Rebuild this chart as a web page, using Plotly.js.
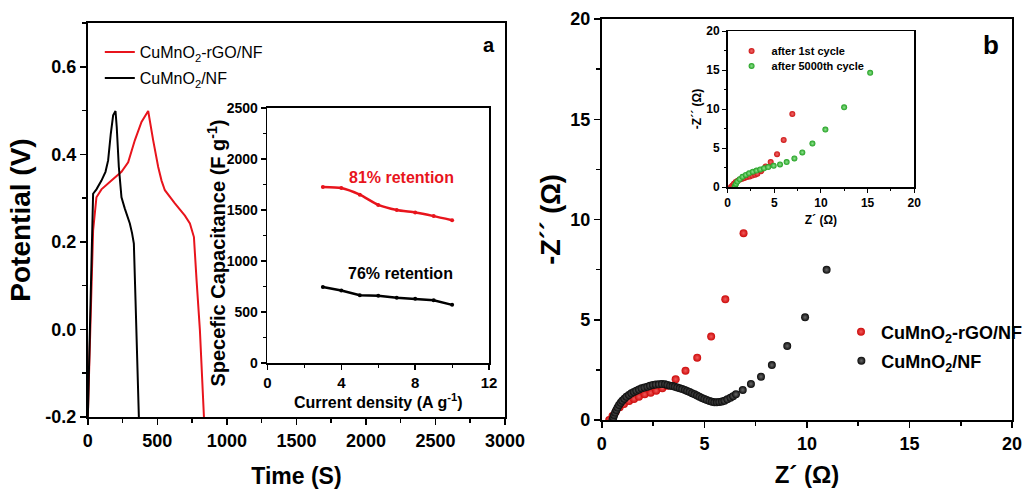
<!DOCTYPE html>
<html>
<head>
<meta charset="utf-8">
<script src="https://cdn.plot.ly/plotly-3.0.1.min.js"></script>
<style>html,body{margin:0;padding:0;background:#fff;}#chart{width:1028px;height:494px;}</style>
</head>
<body>
<div id="chart"></div>
<script>
// ---- Panel a: galvanostatic charge-discharge ----
const timeRGO = [0, 18, 30, 38, 62, 98, 170, 242, 290, 338, 386, 434, 470, 506, 530, 554, 626, 698, 734, 763, 782, 806, 835];
const potRGO  = [-0.2, 0.0, 0.15, 0.226, 0.302, 0.32, 0.34, 0.36, 0.382, 0.432, 0.474, 0.499, 0.432, 0.371, 0.34, 0.318, 0.288, 0.26, 0.242, 0.211, 0.112, -0.002, -0.2];
const timeNF  = [0, 15, 25, 31, 38, 62, 98, 127, 146, 165, 182, 199, 208, 223, 242, 266, 302, 318, 331, 343, 356, 367];
const potNF   = [-0.2, 0.0, 0.15, 0.226, 0.31, 0.32, 0.34, 0.36, 0.386, 0.447, 0.489, 0.499, 0.462, 0.371, 0.302, 0.276, 0.242, 0.22, 0.196, 0.066, -0.07, -0.2];
const potTickVals = [-0.2, 0, 0.2, 0.4, 0.6];
const potTickText = ["-0.2", "0.0", "0.2", "0.4", "0.6"];

// ---- Inset a: specific capacitance ----
const currentDensity = [3, 4, 5, 6, 7, 8, 9, 10];
const capRGO = [1725, 1715, 1650, 1550, 1500, 1475, 1440, 1400];
const capNF  = [745, 710, 665, 660, 640, 630, 615, 570];

// ---- Panel b: Nyquist plot ----
const zReRGO = [0.36, 0.52, 0.68, 0.87, 1.08, 1.33, 1.57, 1.81, 2.09, 2.38, 2.65, 2.95, 3.19, 3.60, 4.08, 4.65, 5.33, 6.02, 6.91];
const zImRGO = [0.0, 0.2, 0.41, 0.63, 0.80, 0.95, 1.05, 1.16, 1.28, 1.36, 1.46, 1.58, 1.71, 2.03, 2.46, 3.11, 4.16, 6.02, 9.32];
const zReNF = [0.52, 0.56, 0.60, 0.65, 0.71, 0.77, 0.84, 0.92, 1.0, 1.10, 1.20, 1.32, 1.44, 1.56, 1.68, 1.81, 1.94, 2.08, 2.22, 2.35, 2.49, 2.63, 2.78, 2.93, 3.08, 3.20, 3.33, 3.45, 3.56, 3.68, 3.80, 3.92, 4.05, 4.16, 4.28, 4.40, 4.52, 4.64, 4.76, 4.88, 5.00, 5.12, 5.25, 5.37, 5.49, 5.61, 5.73, 5.86, 5.98, 6.12, 6.27, 6.40, 6.54, 6.87, 7.27, 7.76, 8.29, 9.04, 9.91, 10.96];
const zImNF = [0.0, 0.12, 0.25, 0.37, 0.50, 0.62, 0.75, 0.86, 0.96, 1.06, 1.16, 1.25, 1.33, 1.40, 1.46, 1.52, 1.58, 1.62, 1.66, 1.71, 1.75, 1.77, 1.78, 1.79, 1.78, 1.75, 1.71, 1.69, 1.66, 1.62, 1.58, 1.54, 1.50, 1.45, 1.40, 1.34, 1.28, 1.22, 1.16, 1.10, 1.05, 1.00, 0.95, 0.91, 0.88, 0.88, 0.90, 0.92, 0.96, 1.03, 1.11, 1.19, 1.28, 1.50, 1.80, 2.16, 2.74, 3.69, 5.12, 7.49];

// ---- Inset b: cycling ----
const zRe1st = [0.36, 0.52, 0.68, 0.87, 1.08, 1.33, 1.57, 1.81, 2.09, 2.38, 2.65, 2.95, 3.19, 3.60, 4.08, 4.62, 5.30, 6.01, 6.94];
const zIm1st = [0.0, 0.2, 0.41, 0.63, 0.80, 0.95, 1.05, 1.16, 1.28, 1.36, 1.46, 1.58, 1.71, 2.03, 2.64, 3.19, 4.21, 6.04, 9.36];
const zRe5000 = [0.75, 0.8, 0.9, 1.05, 1.3, 1.6, 1.95, 2.3, 2.7, 3.1, 3.5, 3.9, 4.36, 4.94, 5.62, 6.33, 7.16, 8.01, 9.09, 10.48, 12.49, 15.28];
const zIm5000 = [0.0, 0.15, 0.4, 0.7, 1.0, 1.3, 1.55, 1.75, 1.95, 2.1, 2.25, 2.4, 2.55, 2.72, 2.89, 3.19, 3.66, 4.43, 5.57, 7.36, 10.21, 14.64];

const RED = '#e8141c', BLACK = '#000000';
const SANS = '"Liberation Sans", Arial, sans-serif';

function axisBase(extra) {
  return Object.assign({
    showline: true, linecolor: '#000', linewidth: 2, mirror: true,
    ticks: 'outside', tickcolor: '#000', tickwidth: 1.5, ticklen: 6,
    showgrid: false, zeroline: false, fixedrange: true
  }, extra);
}

const redBall   = {color: '#cc0a0a', size: 8, gradient: {type: 'radial', color: '#f25a5a'}};
const blackBall = {color: '#0a0a0a', size: 8, gradient: {type: 'radial', color: '#6a6a6a'}};
const redSmall   = {color: '#cc1414', size: 6, gradient: {type: 'radial', color: '#f26a6a'}};
const greenSmall = {color: '#1f9e1f', size: 6, gradient: {type: 'radial', color: '#8fe38f'}};

const traces = [
  {x: timeRGO, y: potRGO, xaxis: 'x', yaxis: 'y', mode: 'lines', name: 'CuMnO<sub>2</sub>-rGO/NF',
   line: {color: RED, width: 2}, legend: 'legend'},
  {x: timeNF, y: potNF, xaxis: 'x', yaxis: 'y', mode: 'lines', name: 'CuMnO<sub>2</sub>/NF',
   line: {color: BLACK, width: 2}, legend: 'legend2'},
  {x: currentDensity, y: capRGO, xaxis: 'x2', yaxis: 'y2', mode: 'lines+markers', showlegend: false,
   line: {color: RED, width: 2.5, shape: 'spline', smoothing: 0.6}, marker: {color: RED, size: 4}},
  {x: currentDensity, y: capNF, xaxis: 'x2', yaxis: 'y2', mode: 'lines+markers', showlegend: false,
   line: {color: BLACK, width: 2.5}, marker: {color: BLACK, size: 4}},
  {x: zReRGO, y: zImRGO, xaxis: 'x3', yaxis: 'y3', mode: 'markers', name: 'CuMnO<sub>2</sub>-rGO/NF', legend: 'legend3',
   marker: redBall},
  {x: zReNF, y: zImNF, xaxis: 'x3', yaxis: 'y3', mode: 'markers', name: 'CuMnO<sub>2</sub>/NF', legend: 'legend4',
   marker: blackBall},
  {x: zRe1st, y: zIm1st, xaxis: 'x4', yaxis: 'y4', mode: 'markers', name: 'after 1st cycle', legend: 'legend5',
   marker: redSmall},
  {x: zRe5000, y: zIm5000, xaxis: 'x4', yaxis: 'y4', mode: 'markers', name: 'after 5000th cycle', legend: 'legend6',
   marker: greenSmall}
];

const W = 1028, H = 494;
const dx = (a, b) => [a / W, b / W];
const dy = (top, bottom) => [1 - bottom / H, 1 - top / H];
// legend placed so that its (single) entry is vertically centred at pixel row cy
function leg(xpx, cy, size, bold) {
  return {x: xpx / W, y: 1 - cy / H, xanchor: 'left', yanchor: 'middle', bgcolor: 'rgba(0,0,0,0)',
    font: {family: SANS, size: size, weight: bold ? 'bold' : 'normal', color: '#000'}, itemwidth: 30,
    borderwidth: 0};
}

const layout = {
  width: W, height: H,
  margin: {l: 0, r: 0, t: 0, b: 0},
  paper_bgcolor: '#fff', plot_bgcolor: 'rgba(0,0,0,0)',
  font: {family: SANS, color: '#000'},
  xaxis: axisBase({domain: dx(88, 506), anchor: 'y', range: [0, 3000], dtick: 500, tick0: 0,
    minor: {ticks: 'outside', ticklen: 4, dtick: 250, tickcolor: '#000', tickwidth: 1.5},
    tickfont: {family: SANS, size: 18, weight: 'bold'},
    title: {text: 'Time (S)', font: {family: SANS, size: 23, weight: 'bold'}, standoff: 18}}),
  yaxis: axisBase({domain: dy(23, 417), anchor: 'x', range: [-0.2, 0.7],
    tickvals: potTickVals, ticktext: potTickText,
    minor: {ticks: 'outside', ticklen: 4, dtick: 0.1, tickcolor: '#000', tickwidth: 1.5},
    tickfont: {family: SANS, size: 18, weight: 'bold'},
    title: {text: 'Potential (V)', font: {family: SANS, size: 28, weight: 'bold'}, standoff: 6}}),
  xaxis2: axisBase({domain: dx(268, 490), anchor: 'y2', range: [0, 12], dtick: 4, tick0: 0,
    minor: {ticks: 'outside', ticklen: 3, dtick: 2, tickcolor: '#000', tickwidth: 1.2},
    linewidth: 1.8, ticklen: 5,
    tickfont: {family: SANS, size: 15, weight: 'bold'},
    title: {text: 'Current density (A g<sup>-1</sup>)', font: {family: SANS, size: 16, weight: 'bold'}, standoff: 0}}),
  yaxis2: axisBase({domain: dy(108, 363), anchor: 'x2', range: [0, 2500], dtick: 500, tick0: 0,
    minor: {ticks: 'outside', ticklen: 3, dtick: 250, tickcolor: '#000', tickwidth: 1.2},
    linewidth: 1.8, ticklen: 5,
    tickfont: {family: SANS, size: 14, weight: 'bold'}}),
  xaxis3: axisBase({domain: dx(603, 1014), anchor: 'y3', range: [0, 20], dtick: 5, tick0: 0,
    minor: {ticks: 'outside', ticklen: 4, dtick: 2.5, tickcolor: '#000', tickwidth: 1.5},
    tickfont: {family: SANS, size: 18, weight: 'bold'},
    title: {text: 'Z´ (Ω)', font: {family: SANS, size: 24, weight: 'bold'}, standoff: 14}}),
  yaxis3: axisBase({domain: dy(19, 420), anchor: 'x3', range: [0, 20], dtick: 5, tick0: 0,
    minor: {ticks: 'outside', ticklen: 4, dtick: 2.5, tickcolor: '#000', tickwidth: 1.5},
    tickfont: {family: SANS, size: 18, weight: 'bold'},
    title: {text: '-Z´´ (Ω)', font: {family: SANS, size: 27, weight: 'bold'}, standoff: 2}}),
  xaxis4: axisBase({domain: dx(729, 916), anchor: 'y4', range: [0, 20], dtick: 5, tick0: 0,
    minor: {ticks: 'outside', ticklen: 2, dtick: 2.5, tickcolor: '#000', tickwidth: 1},
    linewidth: 1.5, ticklen: 4, tickwidth: 1,
    tickfont: {family: SANS, size: 12, weight: 'bold'},
    title: {text: 'Z´ (Ω)', font: {family: SANS, size: 12, weight: 'bold'}, standoff: 6}}),
  yaxis4: axisBase({domain: dy(31, 187), anchor: 'x4', range: [0, 20], dtick: 5, tick0: 0,
    minor: {ticks: 'outside', ticklen: 2, dtick: 2.5, tickcolor: '#000', tickwidth: 1},
    linewidth: 1.5, ticklen: 4, tickwidth: 1,
    tickfont: {family: SANS, size: 12, weight: 'bold'},
    title: {text: '-Z´´ (Ω)', font: {family: SANS, size: 12, weight: 'bold'}, standoff: 2}}),
  legend:  leg(100, 52, 16, false),
  legend2: leg(100, 78, 16, false),
  legend3: leg(843, 332, 18, true),
  legend4: leg(843, 361, 18, true),
  legend5: leg(733, 51, 11, true),
  legend6: leg(733, 66, 11, true),
  annotations: [
    {xref: 'paper', yref: 'paper', x: 490 / W, y: 1 - 45 / H, xanchor: 'center', yanchor: 'middle',
     text: 'a', showarrow: false, font: {family: SANS, size: 20, weight: 'bold'}},
    {xref: 'paper', yref: 'paper', x: 993 / W, y: 1 - 45 / H, xanchor: 'center', yanchor: 'middle',
     text: 'b', showarrow: false, font: {family: SANS, size: 26, weight: 'bold'}},
    {xref: 'paper', yref: 'paper', x: 216 / W, y: 1 - 253 / H, xanchor: 'center', yanchor: 'middle',
     textangle: -90, text: 'Specefic Capacitance (F g<sup>-1</sup>)', showarrow: false,
     font: {family: SANS, size: 20, weight: 'bold'}},
    {xref: 'x2', yref: 'y2', x: 7.25, y: 1814, text: '81% retention', showarrow: false,
     font: {family: SANS, size: 16, weight: 'bold', color: RED}},
    {xref: 'x2', yref: 'y2', x: 7.2, y: 882, text: '76% retention', showarrow: false,
     font: {family: SANS, size: 16, weight: 'bold', color: '#000'}}
  ]
};

Plotly.newPlot('chart', traces, layout, {staticPlot: true, displayModeBar: false});
</script>
</body>
</html>
